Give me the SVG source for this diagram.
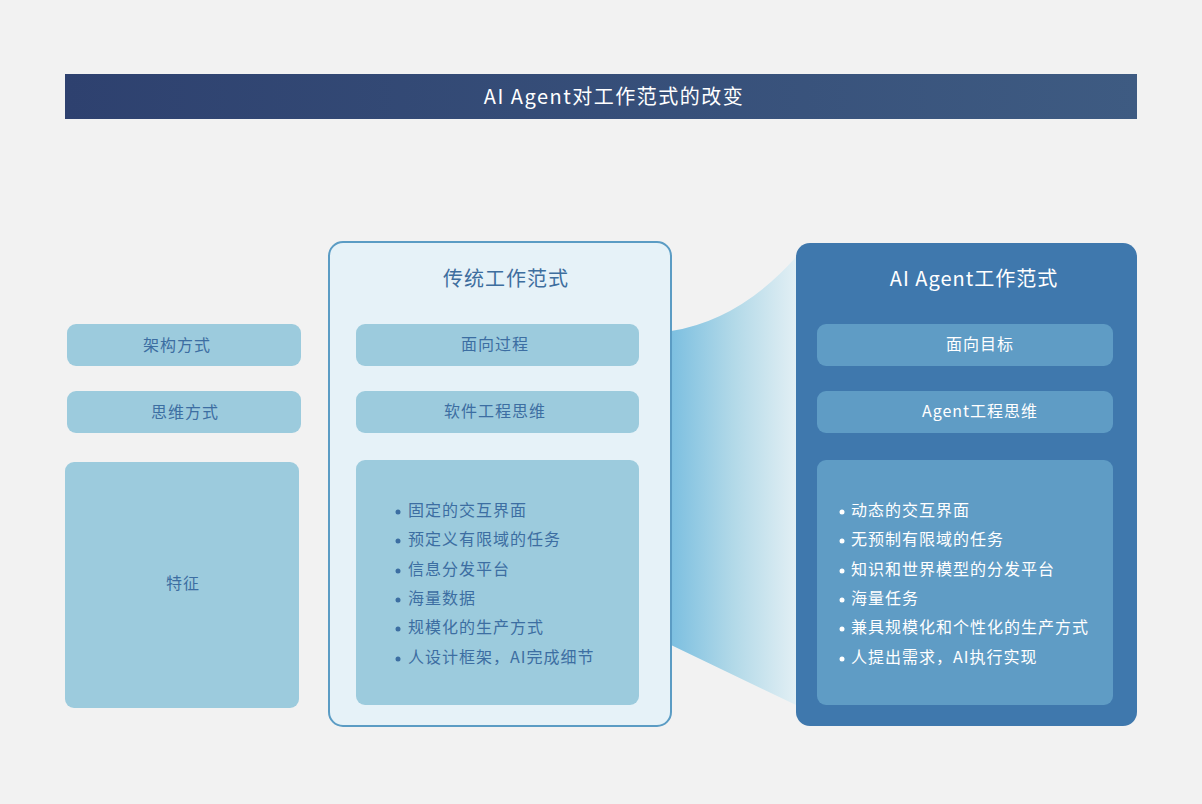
<svg xmlns="http://www.w3.org/2000/svg" width="1202" height="804" viewBox="0 0 1202 804">
<defs>
<linearGradient id="titleGrad" x1="0" y1="0" x2="1" y2="0">
<stop offset="0" stop-color="#2e416f"/>
<stop offset="1" stop-color="#3e5b82"/>
</linearGradient>
<linearGradient id="funnelGrad" x1="0" y1="0" x2="1" y2="0">
<stop offset="0" stop-color="#7cbfe0"/>
<stop offset="0.5" stop-color="#b2d9e8"/>
<stop offset="1" stop-color="#e2eff4"/>
</linearGradient>
<style>
text{font-family:"Noto Sans CJK SC","Noto Sans",sans-serif;font-weight:400;}
.lbl{fill:#9ccbdd;}
.ltxt{font-size:16px;letter-spacing:1px;fill:#3c6ea2;text-anchor:middle;}
.rbox{fill:#5f9cc5;}
.rtxt{font-size:16px;letter-spacing:1px;fill:#ffffff;text-anchor:middle;}
.litem{font-size:16px;letter-spacing:1px;fill:#3c6ea2;}
.ritem{font-size:16px;letter-spacing:1px;fill:#ffffff;}
.head{font-size:20px;letter-spacing:1px;text-anchor:middle;}
</style>
</defs>
<rect width="1202" height="804" fill="#f2f2f2"/>
<g id="title">
<rect x="65" y="74" width="1072" height="45" fill="url(#titleGrad)"/>
<text x="614" y="104" class="head" fill="#ffffff" style="letter-spacing:1.5px">AI Agent对工作范式的改变</text>
</g>
<g id="connectors">
<path d="M671,331 Q740,320 796,257 L796,705 L671,645 Z" fill="url(#funnelGrad)"/>
</g>
<g id="row-labels">
<g id="label-arch"><rect x="67" y="324" width="234" height="42" rx="9" class="lbl"/><text x="177" y="351" class="ltxt">架构方式</text></g>
<g id="label-think"><rect x="67" y="391" width="234" height="42" rx="9" class="lbl"/><text x="185" y="418" class="ltxt">思维方式</text></g>
<g id="label-feat"><rect x="65" y="462" width="234" height="246" rx="9" class="lbl"/><text x="183" y="589" class="ltxt">特征</text></g>
</g>
<g id="traditional">
<rect x="329" y="242" width="342" height="484" rx="14" fill="#e6f2f8" stroke="#5b9cc4" stroke-width="2"/>
<text x="506" y="286" class="head" fill="#3e6e9e">传统工作范式</text>
<rect x="356" y="324" width="283" height="42" rx="9" class="lbl"/><text x="495" y="350" class="ltxt">面向过程</text>
<rect x="356" y="391" width="283" height="42" rx="9" class="lbl"/><text x="495" y="417" class="ltxt">软件工程思维</text>
<rect x="356" y="460" width="283" height="245" rx="9" class="lbl"/>
<g fill="#3c6ea2">
<circle cx="398" cy="512" r="2.5"/><circle cx="398" cy="541" r="2.5"/><circle cx="398" cy="571" r="2.5"/>
<circle cx="398" cy="600" r="2.5"/><circle cx="398" cy="629" r="2.5"/><circle cx="398" cy="659" r="2.5"/>
</g>
<text x="408" y="516" class="litem">固定的交互界面</text>
<text x="408" y="545" class="litem">预定义有限域的任务</text>
<text x="408" y="575" class="litem">信息分发平台</text>
<text x="408" y="604" class="litem">海量数据</text>
<text x="408" y="633" class="litem">规模化的生产方式</text>
<text x="408" y="663" class="litem">人设计框架，AI完成细节</text>
</g>
<g id="agent">
<rect x="796" y="243" width="341" height="483" rx="14" fill="#3f78ad"/>
<text x="974" y="286" class="head" fill="#ffffff">AI Agent工作范式</text>
<rect x="817" y="324" width="296" height="42" rx="9" class="rbox"/><text x="980" y="350" class="rtxt">面向目标</text>
<rect x="817" y="391" width="296" height="42" rx="9" class="rbox"/><text x="980" y="417" class="rtxt">Agent工程思维</text>
<rect x="817" y="460" width="296" height="245" rx="9" class="rbox"/>
<g fill="#ffffff">
<circle cx="842" cy="512" r="2.5"/><circle cx="842" cy="541" r="2.5"/><circle cx="842" cy="571" r="2.5"/>
<circle cx="842" cy="600" r="2.5"/><circle cx="842" cy="629" r="2.5"/><circle cx="842" cy="659" r="2.5"/>
</g>
<text x="851" y="516" class="ritem">动态的交互界面</text>
<text x="851" y="545" class="ritem">无预制有限域的任务</text>
<text x="851" y="575" class="ritem">知识和世界模型的分发平台</text>
<text x="851" y="604" class="ritem">海量任务</text>
<text x="851" y="633" class="ritem">兼具规模化和个性化的生产方式</text>
<text x="851" y="663" class="ritem">人提出需求，AI执行实现</text>
</g>
</svg>
